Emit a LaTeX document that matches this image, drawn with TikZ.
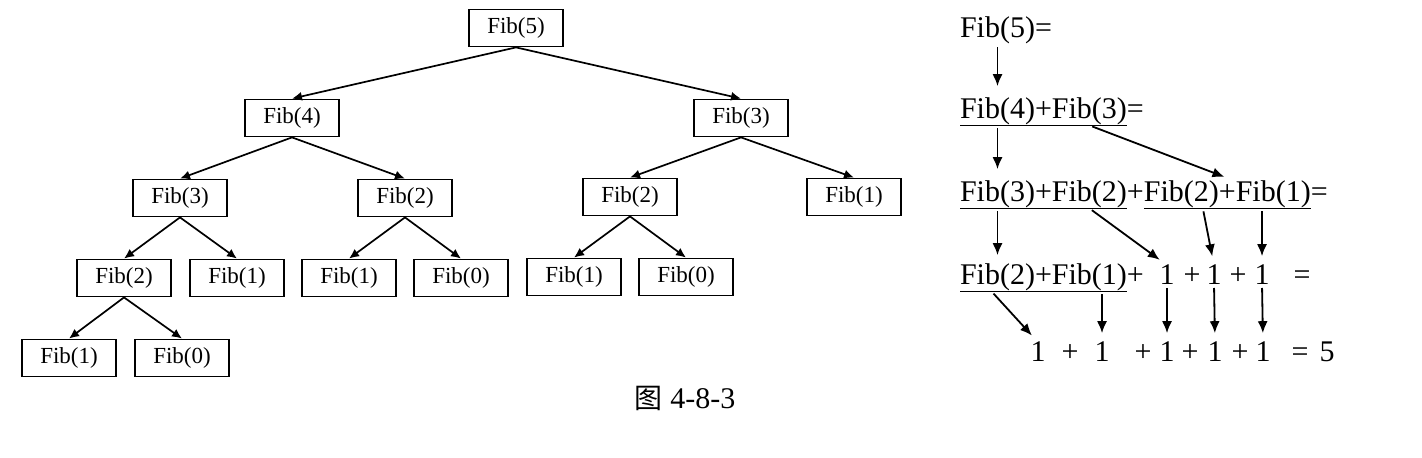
\documentclass[tikz,border=0pt]{standalone}
\usepackage{fontspec}
\setmainfont{Liberation Serif}
\newfontfamily\cjk{Noto Sans CJK SC}
\usetikzlibrary{arrows.meta,positioning,calc}
\tikzset{
  box/.style={draw, line width=0.9pt, minimum width=47pt, minimum height=18.5pt, inner sep=0pt, font=\fontsize{11.5}{13}\selectfont},
  edge/.style={-{Latex[length=5pt,width=4.5pt]}, line width=0.85pt},
  eq/.style={inner sep=0pt, outer sep=0pt, font=\fontsize{15}{18}\selectfont},
  down/.style={-{Latex[length=6pt,width=5pt]}, line width=0.9pt, shorten <=1.5pt, shorten >=4.5pt},
  uline/.style={line width=0.7pt},
}
\begin{document}
\begin{tikzpicture}[x=0.5pt,y=-0.5pt]
\useasboundingbox (0,0) rectangle (1422,458);

% call tree
\node[box] (f5) at (516,28) {Fib(5)};
\node[box] (f4) at (292,118) {Fib(4)};
\node[box] (f3) at (741,118) {Fib(3)};
\node[box] (f43) at (180,198) {Fib(3)};
\node[box] (f42) at (405,198) {Fib(2)};
\node[box] (f32) at (630,197) {Fib(2)};
\node[box] (f31) at (854,197) {Fib(1)};
\node[box] (f432) at (124,278) {Fib(2)};
\node[box] (f431) at (237,278) {Fib(1)};
\node[box] (f421) at (349,278) {Fib(1)};
\node[box] (f420) at (461,278) {Fib(0)};
\node[box] (f321) at (574,277) {Fib(1)};
\node[box] (f320) at (686,277) {Fib(0)};
\node[box] (f4321) at (69,358) {Fib(1)};
\node[box] (f4320) at (182,358) {Fib(0)};

\foreach \a/\b in {f5/f4,f5/f3,f4/f43,f4/f42,f3/f32,f3/f31,f43/f432,f43/f431,
                   f42/f421,f42/f420,f32/f321,f32/f320,f432/f4321,f432/f4320}
    \draw[edge] (\a.south) -- (\b.north);

% expansion
\node[eq, anchor=base west] (r5) at (960,38) {Fib(5)};
\node[eq, base right=0pt of r5] (r5eq) {=};

\node[eq, anchor=base west] (r4) at (960,119) {Fib(4)};
\node[eq, base right=0pt of r4] (r4p) {+};
\node[eq, base right=0pt of r4p] (r43) {Fib(3)};
\node[eq, base right=0pt of r43] (r4eq) {=};
\draw[uline] (r4.south west) -- (r43.south east);

\node[eq, anchor=base west] (r3a) at (960,202) {Fib(3)};
\node[eq, base right=0pt of r3a] (r3p) {+};
\node[eq, base right=0pt of r3p] (r3b) {Fib(2)};
\node[eq, base right=0pt of r3b] (r3q) {+};
\node[eq, base right=0pt of r3q] (r3c) {Fib(2)};
\node[eq, base right=0pt of r3c] (r3r) {+};
\node[eq, base right=0pt of r3r] (r3d) {Fib(1)};
\node[eq, base right=0pt of r3d] (r3eq) {=};
\draw[uline] (r3a.south west) -- (r3b.south east);
\draw[uline] (r3c.south west) -- (r3d.south east);

\node[eq, anchor=base west] (r2a) at (960,285) {Fib(2)};
\node[eq, base right=0pt of r2a] (r2p) {+};
\node[eq, base right=0pt of r2p] (r2b) {Fib(1)};
\node[eq, base right=0pt of r2b] (r2q) {+};
\node[eq, anchor=base] (r2c) at (1167,285) {1};
\node[eq, anchor=base] (r2r) at (1192,285) {+};
\node[eq, anchor=base] (r2d) at (1214,285) {1};
\node[eq, anchor=base] (r2s) at (1238,285) {+};
\node[eq, anchor=base] (r2e) at (1262,285) {1};
\node[eq, anchor=base] (r2eq) at (1302,285) {=};
\draw[uline] (r2a.south west) -- (r2b.south east);

\node[eq, anchor=base] (r1a) at (1038,362) {1};
\node[eq, anchor=base] (r1b) at (1102,362) {1};
\node[eq, anchor=base] (r1c) at (1167,362) {1};
\node[eq, anchor=base] (r1d) at (1215,362) {1};
\node[eq, anchor=base] (r1e) at (1263,362) {1};
\foreach \x [count=\i] in {1070,1143,1190,1240}
    \node[eq, anchor=base] (r1p\i) at (\x,362) {+};
\node[eq, anchor=base] (r1eq) at (1300,362) {=};
\node[eq, anchor=base] (r1sum) at (1327,362) {5};

\draw[down, shorten >=6pt] (r5.south) -- (r4.north);
\draw[down, shorten >=6pt] (r4.south) -- (r3a.north);
\draw[down, shorten >=6pt] (r43.south) -- ($(r3c.north west)!0.55!(r3d.north east)$);
\draw[down] (r3a.south) -- (r2a.north);
\draw[down] (r3b.south) -- (r2c.north);
\draw[down] ([xshift=-8]r3c.south east) -- (r2d.north);
\draw[down] (r3d.south -| r2e) -- (r2e.north);
\draw[down] ([xshift=-3]r2a.south) -- (r1a.north);
\draw[down] (r2b.south -| r1b) -- (r1b.north);
\draw[down] (r2c.south) -- (r1c.north);
\draw[down] (r2d.south) -- (r1d.north);
\draw[down] (r2e.south) -- (r1e.north);

\node[font=\fontsize{15}{18}\selectfont] (cap) at (685,398) {{\cjk\fontsize{14}{18}\selectfont 图} 4-8-3};
\end{tikzpicture}
\end{document}
